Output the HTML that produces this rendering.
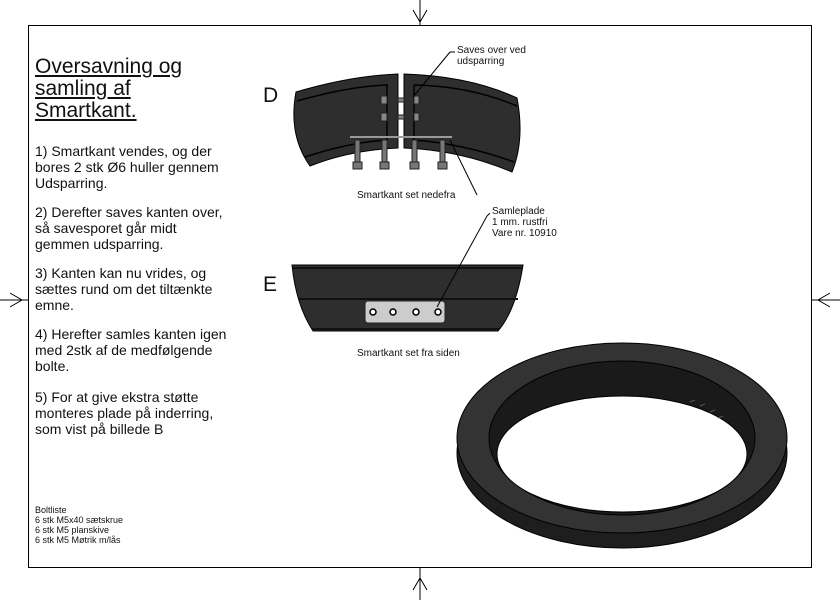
<!DOCTYPE html>
<html><head><style>
body{margin:0;background:#fff;width:840px;height:600px;overflow:hidden;position:relative;font-family:"Liberation Sans",sans-serif;color:#111}
.t{position:absolute;left:35px;top:56px;font-size:21px;line-height:22px;text-decoration:underline}
.b{position:absolute;left:35px;font-size:14px;line-height:16px}
.s{position:absolute;font-size:10px;line-height:11px}
</style></head><body>
<svg width="840" height="600" style="position:absolute;left:0;top:0">
<rect x="28.5" y="25.5" width="783" height="542" fill="none" stroke="#000"/>
<g stroke="#000" fill="none">
<path d="M420 0V25M413 10L420 22L427 10"/>
<path d="M420 600V567M413 590L420 578L427 590"/>
<path d="M0 300H28M10 293L22 300L10 307"/>
<path d="M840 300H812M830 293L818 300L830 307"/>
</g>
<!-- D -->
<path d="M296 92Q350 76 398 74V148Q350 150 310 166Q288 135 296 92Z" fill="#2e2e2e" stroke="#000"/>
<path d="M404 74Q470 76 517 98Q525 140 512 172Q460 150 404 148Z" fill="#2e2e2e" stroke="#000"/>
<path d="M297 101Q350 86 387 85V140Q350 142 305 157" stroke="#000" stroke-width="1.5" fill="none"/>
<path d="M414 85Q470 86 517 106M414 85V140Q465 144 514 162" stroke="#000" stroke-width="1.5" fill="none"/>
<g fill="#888" stroke="#222"><rect x="381" y="96" width="6" height="8"/><rect x="381" y="113" width="6" height="8"/><rect x="414" y="96" width="5" height="8"/><rect x="414" y="113" width="5" height="8"/><rect x="398" y="98" width="6" height="4"/><rect x="398" y="115" width="6" height="4"/></g>
<line x1="350" y1="137" x2="452" y2="137" stroke="#999" stroke-width="2"/>
<g fill="#777" stroke="#222">
<rect x="355" y="140" width="5" height="22"/><rect x="382" y="140" width="5" height="22"/><rect x="412" y="140" width="5" height="22"/><rect x="440" y="140" width="5" height="22"/>
<rect x="353" y="162" width="9" height="7"/><rect x="380" y="162" width="9" height="7"/><rect x="410" y="162" width="9" height="7"/><rect x="438" y="162" width="9" height="7"/>
</g>
<line x1="413" y1="97" x2="450" y2="52" stroke="#000"/><line x1="450" y1="52" x2="455" y2="52" stroke="#000"/>
<line x1="450" y1="140" x2="477" y2="195" stroke="#000"/>
<!-- E -->
<path d="M292 265H523Q516 310 498 331H313Q296 305 292 265Z" fill="#2e2e2e" stroke="#000"/>
<line x1="292" y1="268" x2="523" y2="268" stroke="#111" stroke-width="2"/>
<line x1="299" y1="299" x2="518" y2="299" stroke="#111" stroke-width="2"/>
<line x1="312" y1="329" x2="499" y2="329" stroke="#111" stroke-width="2"/>
<rect x="365" y="301" width="80" height="22" rx="3" fill="#ccc" stroke="#222"/>
<g fill="#fff" stroke="#000" stroke-width="1.5"><circle cx="373" cy="312" r="3"/><circle cx="393" cy="312" r="3"/><circle cx="416" cy="312" r="3"/><circle cx="438" cy="312" r="3"/></g>
<polyline points="437,307 487,216 490,213" fill="none" stroke="#000"/>
<!-- Ring -->
<ellipse cx="622" cy="453" rx="165" ry="95" fill="#1e1e1e" stroke="#000"/>
<ellipse cx="622" cy="438" rx="165" ry="95" fill="#333" stroke="#000"/>
<ellipse cx="622" cy="438" rx="133" ry="77" fill="#1a1a1a" stroke="#000"/>
<ellipse cx="622" cy="454" rx="125" ry="58" fill="#fff" stroke="#000"/>
<g stroke="#555"><line x1="690" y1="402" x2="695" y2="400"/><line x1="700" y1="406" x2="705" y2="404"/><line x1="710" y1="412" x2="715" y2="410"/><line x1="718" y1="418" x2="723" y2="416"/></g>
</svg>
<div class="t">Oversavning og<br>samling af<br>Smartkant.</div>
<div class="b" style="top:143px">1) Smartkant vendes, og der<br>bores 2 stk Ø6 huller gennem<br>Udsparring.</div>
<div class="b" style="top:204px">2) Derefter saves kanten over,<br>så savesporet går midt<br>gemmen udsparring.</div>
<div class="b" style="top:265px">3) Kanten kan nu vrides, og<br>sættes rund om det tiltænkte<br>emne.</div>
<div class="b" style="top:326px">4) Herefter samles kanten igen<br>med 2stk af de medfølgende<br>bolte.</div>
<div class="b" style="top:389px">5) For at give ekstra støtte<br>monteres plade på inderring,<br>som vist på billede B</div>
<div class="s" style="left:35px;top:505px;font-size:9px;line-height:10px">Boltliste<br>6 stk M5x40 sætskrue<br>6 stk M5 planskive<br>6 stk M5 Møtrik m/lås</div>
<div style="position:absolute;left:263px;top:84px;font-size:21px">D</div>
<div style="position:absolute;left:263px;top:273px;font-size:21px">E</div>
<div class="s" style="left:457px;top:45px">Saves over ved<br>udsparring</div>
<div class="s" style="left:357px;top:190px">Smartkant set nedefra</div>
<div class="s" style="left:492px;top:206px">Samleplade<br>1 mm. rustfri<br>Vare nr. 10910</div>
<div class="s" style="left:357px;top:348px">Smartkant set fra siden</div>
</body></html>
